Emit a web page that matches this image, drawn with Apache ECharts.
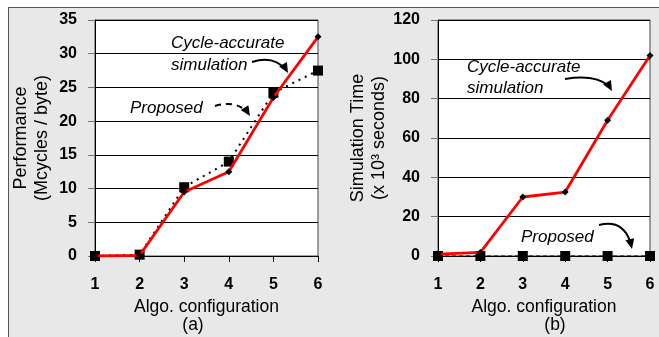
<!DOCTYPE html>
<html>
<head>
<meta charset="utf-8">
<script src="https://cdn.jsdelivr.net/npm/echarts@6/dist/echarts.min.js"></script>
<style>
html,body{margin:0;padding:0;background:#fff;}
#frame{position:absolute;left:8px;top:7px;width:651px;height:330px;background:#e8e8e8;border-left:1px solid #555;border-top:1px solid #555;box-sizing:border-box;}
#chart{position:absolute;left:0;top:0;width:659px;height:337px;}
</style>
</head>
<body>
<div id="frame"></div>
<div id="chart"></div>
<script>
/* 数据 */
var configs = ['1', '2', '3', '4', '5', '6'];
var perfCycle = [0, 0.1, 9.5, 12.5, 23.5, 32.5];
var perfProposed = [0, 0.2, 10.2, 14, 24.2, 27.5];
var timeCycle = [1, 1.8, 30, 32.5, 69, 102];
var timeProposed = [0, 0, 0, 0, 0, 0];

var FONT = '"Liberation Sans", Arial, sans-serif';

function xAxisOf(idx) {
    return {
        type: 'category', gridIndex: idx, data: configs, boundaryGap: false,
        name: 'Algo. configuration', nameLocation: 'middle', nameGap: 35,
        nameTextStyle: {fontFamily: FONT, fontSize: 17.5, color: '#000'},
        axisLine: {lineStyle: {color: '#000', width: 1}},
        axisTick: {show: true, length: 6, lineStyle: {color: '#000'}},
        axisLabel: {fontFamily: FONT, fontSize: 16, fontWeight: 'bold', color: '#000', margin: 21},
        splitLine: {show: false}
    };
}

function yAxisOf(idx, name, max, step, gap) {
    return {
        type: 'value', gridIndex: idx, min: 0, max: max, interval: step,
        name: name, nameLocation: 'middle', nameRotate: 90, nameGap: gap,
        nameTextStyle: {fontFamily: FONT, fontSize: 18, color: '#000', lineHeight: 21},
        axisLine: {show: true, lineStyle: {color: '#000', width: 1}},
        axisTick: {show: true, length: 7, lineStyle: {color: '#777'}},
        axisLabel: {fontFamily: FONT, fontSize: 16, fontWeight: 'bold', color: '#000', margin: 18},
        splitLine: {show: true, lineStyle: {color: '#000', width: 1}}
    };
}

function arrowHead(x, y, ang) {
    // 箭头三角
    var l = 10, w = 4.5;
    var c = Math.cos(ang), s = Math.sin(ang);
    return {
        type: 'polygon',
        shape: {points: [[x, y], [x - l * c + w * s, y - l * s - w * c], [x - l * c - w * s, y - l * s + w * c]]},
        style: {fill: '#000'}
    };
}

function label(text, x, y, font, align) {
    return {
        type: 'text', x: x, y: y,
        style: {text: text, font: font, fill: '#000', align: align || 'left', verticalAlign: 'middle'}
    };
}

var ITALIC = 'italic 17px ' + FONT;

var chart = echarts.init(document.getElementById('chart'));
chart.setOption({
    animation: false,
    backgroundColor: 'transparent',
    grid: [
        {left: 95, right: 341, top: 20, bottom: 81, show: true, backgroundColor: '#fff', borderColor: '#444', borderWidth: 1},
        {left: 438, right: 9, top: 20, bottom: 81, show: true, backgroundColor: '#fff', borderColor: '#444', borderWidth: 1}
    ],
    xAxis: [xAxisOf(0), xAxisOf(1)],
    yAxis: [
        yAxisOf(0, 'Performance\n(Mcycles / byte)', 35, 5, 42),
        yAxisOf(1, 'Simulation Time\n(x 10³ seconds)', 120, 20, 48)
    ],
    series: [
        {type: 'line', xAxisIndex: 0, yAxisIndex: 0, data: perfProposed, z: 3,
            lineStyle: {color: '#000', width: 2, type: [2, 5]},
            symbol: 'rect', symbolSize: 10, itemStyle: {color: '#000'}},
        {type: 'line', xAxisIndex: 0, yAxisIndex: 0, data: perfCycle, z: 4,
            lineStyle: {color: '#ff0000', width: 2.8},
            symbol: 'diamond', symbolSize: 7, itemStyle: {color: '#000'}},
        {type: 'line', xAxisIndex: 1, yAxisIndex: 1, data: timeProposed, z: 3,
            lineStyle: {color: '#000', width: 1, type: [4, 3]},
            symbol: 'rect', symbolSize: 10, itemStyle: {color: '#000'}},
        {type: 'line', xAxisIndex: 1, yAxisIndex: 1, data: timeCycle, z: 4,
            lineStyle: {color: '#ff0000', width: 2.8},
            symbol: 'diamond', symbolSize: 7, itemStyle: {color: '#000'}}
    ],
    graphic: [
        label('Cycle-accurate', 171, 43, ITALIC),
        label('simulation', 171, 65, ITALIC),
        {type: 'bezierCurve', shape: {x1: 252, y1: 62, x2: 286, y2: 70, cpx1: 274, cpy1: 55}, style: {stroke: '#000', lineWidth: 2, fill: null}},
        arrowHead(288, 73, 1.05),
        label('Proposed', 130, 108, ITALIC),
        {type: 'bezierCurve', shape: {x1: 215, y1: 106, x2: 247, y2: 112, cpx1: 236, cpy1: 100}, style: {stroke: '#000', lineWidth: 2, fill: null, lineDash: [6, 5]}},
        arrowHead(250, 116, 1.0),
        label('Cycle-accurate', 467, 67, ITALIC),
        label('simulation', 467, 88, ITALIC),
        {type: 'bezierCurve', shape: {x1: 565, y1: 79, x2: 609, y2: 86, cpx1: 595, cpy1: 74}, style: {stroke: '#000', lineWidth: 2, fill: null}},
        arrowHead(612, 91, 1.05),
        label('Proposed', 521, 237, ITALIC),
        {type: 'bezierCurve', shape: {x1: 599, y1: 225, x2: 630, y2: 241, cpx1: 622, cpy1: 219}, style: {stroke: '#000', lineWidth: 2, fill: null}},
        arrowHead(632, 249, 1.35),
        label('(a)', 193, 325, '17.5px ' + FONT, 'center'),
        label('(b)', 555, 325, '17.5px ' + FONT, 'center')
    ]
});
</script>
</body>
</html>
